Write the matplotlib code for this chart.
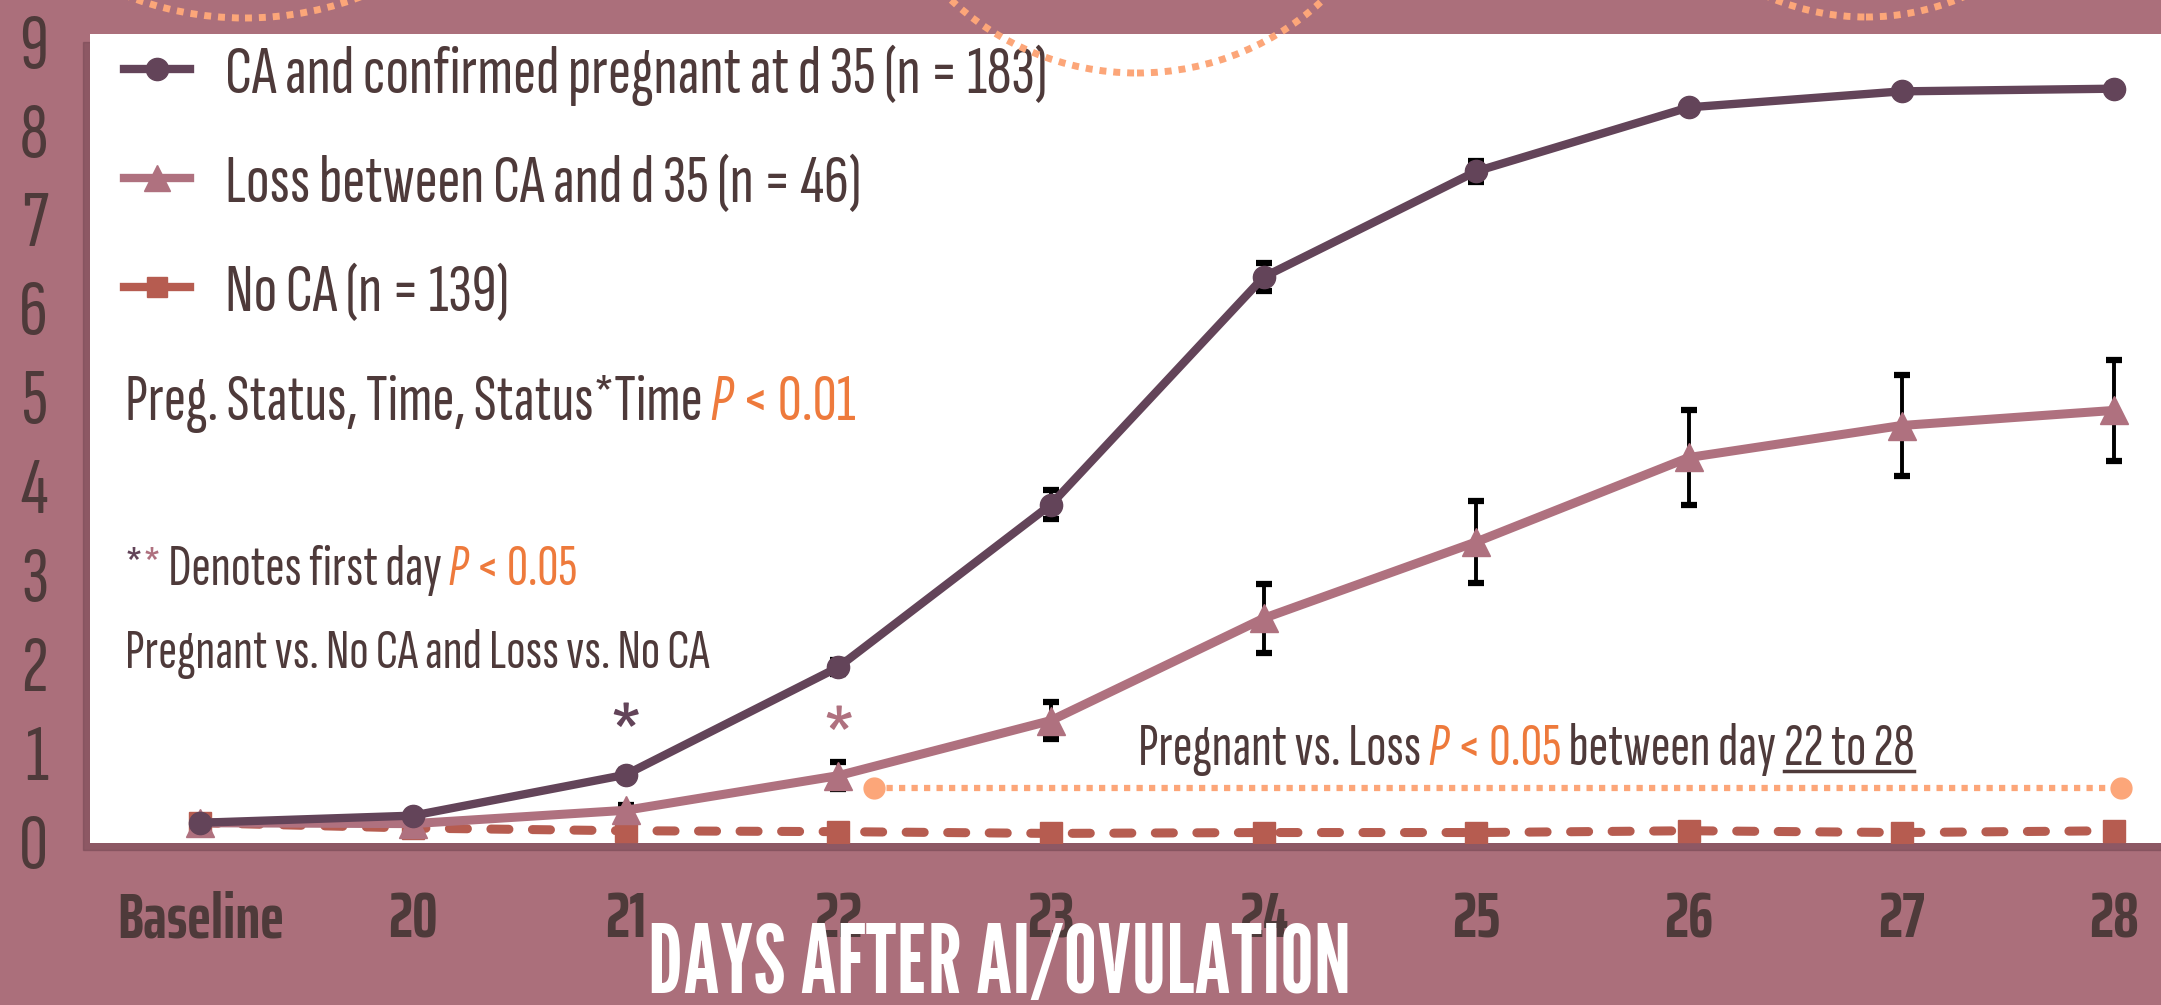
import numpy as np
import matplotlib.pyplot as plt
import matplotlib.transforms as mtransforms
from matplotlib.lines import Line2D
from matplotlib.patches import Circle, Rectangle

# colours
BG = "#AB6F7B"
PREG = "#634459"
LOSS = "#AF717F"
NOCA = "#B65C50"
TXT = "#4E3A3A"
ORANGE = "#EE7A3C"
SALMON = "#FCA679"

BODY = ["Sofia Sans Extra Condensed", "Liberation Sans Narrow", "DejaVu Sans"]
TICK = ["Saira ExtraCondensed", "Sofia Sans Extra Condensed", "DejaVu Sans"]
HEAD = ["League Gothic", "Liberation Sans Narrow", "DejaVu Sans"]
plt.rcParams["font.family"] = BODY

days = ["Baseline", "20", "21", "22", "23", "24", "25", "26", "27", "28"]
pregnant = [0.20, 0.28, 0.74, 1.95, 3.78, 6.34, 7.53, 8.25, 8.43, 8.46]
pregnant_se = [0.02, 0.03, 0.05, 0.08, 0.16, 0.16, 0.12, 0.05, 0.05, 0.05]
loss = [0.20, 0.19, 0.34, 0.73, 1.35, 2.50, 3.36, 4.31, 4.67, 4.84]
loss_se = [0.02, 0.03, 0.06, 0.15, 0.21, 0.39, 0.46, 0.54, 0.57, 0.57]
no_ca = [0.20, 0.14, 0.11, 0.10, 0.08, 0.09, 0.09, 0.11, 0.09, 0.11]
no_ca_se = [0.02, 0.02, 0.02, 0.02, 0.02, 0.02, 0.02, 0.02, 0.02, 0.02]
labels = ["CA and confirmed pregnant at d 35 (n = 183)",
          "Loss between CA and d 35 (n = 46)",
          "No CA (n = 139)"]

x = np.arange(len(days))

fig = plt.figure(figsize=(21.61, 10.05), dpi=100, facecolor=BG)
ax_pos = [0.0415, 0.161, 0.9585, 0.8047]
ax = fig.add_axes(ax_pos)
ax.set_facecolor("white")
ax.set_zorder(1)

# soft shadow behind the white panel
fig.patches.append(Rectangle((ax_pos[0] - 0.003, ax_pos[1] - 0.007), ax_pos[2] + 0.01, ax_pos[3],
                             transform=fig.transFigure, color="#7A4A56", alpha=0.6, zorder=0))

ax.set_xlim(-0.52, 9.22)
ax.set_ylim(-0.03, 9.07)
for s in ax.spines.values():
    s.set_visible(False)

ax.set_yticks(range(10))
ax.set_yticklabels([str(i) for i in range(10)], fontsize=58, color=TXT)
ax.set_xticks(x)
ax.set_xticklabels(days, fontsize=46, color=TXT, fontweight="bold", family=TICK)
ax.tick_params(axis="y", length=0, pad=30)
ax.tick_params(axis="x", length=0, pad=34)

# error bars under the lines
for vals, err in [(pregnant, pregnant_se), (loss, loss_se), (no_ca, no_ca_se)]:
    ax.errorbar(x, vals, yerr=err, fmt="none", ecolor="black", elinewidth=2.8,
                capsize=6, capthick=4.5, zorder=2)

ax.plot(x, no_ca, color=NOCA, lw=6.5, ls=(0, (2.0, 2.6)), dash_capstyle="round",
        marker="s", ms=16, zorder=3)
ax.plot(x, loss, color=LOSS, lw=6.5, marker="^", ms=20, zorder=4)
ax.plot(x, pregnant, color=PREG, lw=6, marker="o", ms=16, zorder=5)

# Pregnant vs. Loss bracket
bracket_x = [3.17, 9.03]
bracket_y = 0.59
ax.plot(bracket_x, [bracket_y, bracket_y], color=SALMON, lw=4.5,
        ls=(0, (1, 1)), zorder=3)
ax.plot(bracket_x, [bracket_y, bracket_y], ls="none", marker="o", ms=15,
        color=SALMON, zorder=3)

# first-day significance marks
ax.text(2.0, 0.72, "*", fontsize=80, color=PREG, ha="center", va="baseline")
ax.text(3.0, 0.68, "*", fontsize=80, color=LOSS, ha="center", va="baseline")

handles = [Line2D([], [], color=PREG, lw=6, marker="o", ms=16),
           Line2D([], [], color=LOSS, lw=6, marker="^", ms=19),
           Line2D([], [], color=NOCA, lw=6, marker="s", ms=15)]
ax.legend(handles, labels, loc="upper left", bbox_to_anchor=(0.0116, 1.0), frameon=False,
          prop={"family": BODY, "size": 50, "weight": "light"}, labelcolor=TXT,
          handlelength=0.95, handletextpad=0.5, labelspacing=0.68,
          borderaxespad=0.0, borderpad=0.15)

renderer = fig.canvas.get_renderer()


def rich_text(x0, y0, parts, size):
    t = ax.transData
    out = []
    for s, color, style in parts:
        txt = ax.text(x0, y0, s, color=color, fontsize=size, style=style, weight="light",
                      transform=t, va="baseline", zorder=6)
        txt.draw(renderer)
        ex = txt.get_window_extent(renderer)
        t = mtransforms.offset_copy(txt.get_transform(), x=ex.width, units="dots")
        out.append(txt)
    return out


rich_text(-0.356, 4.73, [("Preg. Status, Time, Status*Time", TXT, "normal"),
                         (" P", ORANGE, "italic"), (" < 0.01", ORANGE, "normal")], 48)
rich_text(-0.356, 2.87, [("*", PREG, "normal"), ("*", LOSS, "normal"),
                         (" Denotes first day", TXT, "normal"),
                         (" P", ORANGE, "italic"), (" < 0.05", ORANGE, "normal")], 42)
rich_text(-0.356, 1.94, [("Pregnant vs. No CA and Loss vs. No CA", TXT, "normal")], 41)
parts = rich_text(4.41, 0.85, [("Pregnant vs. Loss", TXT, "normal"),
                               (" P", ORANGE, "italic"), (" < 0.05", ORANGE, "normal"),
                               (" between day ", TXT, "normal"), ("22 to 28", TXT, "normal")], 43)

# underline the day range
bb = parts[-1].get_window_extent(renderer)
base_y = ax.transData.transform((0, 0.85))[1]
fig.add_artist(Line2D([bb.x0, bb.x1], [base_y - 6, base_y - 6], color=TXT, lw=2.5,
                      transform=mtransforms.IdentityTransform(), zorder=5))

fig.text(0.4624, 0.038, "DAYS AFTER AI/OVULATION", color="white", fontsize=68,
         family=HEAD, ha="center", va="center", zorder=5)

# dotted wave running along the top edge
H = 1005
for cx, half_w, depth in [(245, 107, 18), (1137, 186, 73), (1866, 90, 17)]:
    r = (half_w ** 2 + depth ** 2) / (2 * depth)
    fig.add_artist(Circle((cx, H - depth + r), r, fill=False, ec=SALMON, lw=5,
                          ls=(0, (1, 1)), transform=mtransforms.IdentityTransform(),
                          zorder=10))

fig.savefig("out.png", dpi=100, facecolor=BG)
